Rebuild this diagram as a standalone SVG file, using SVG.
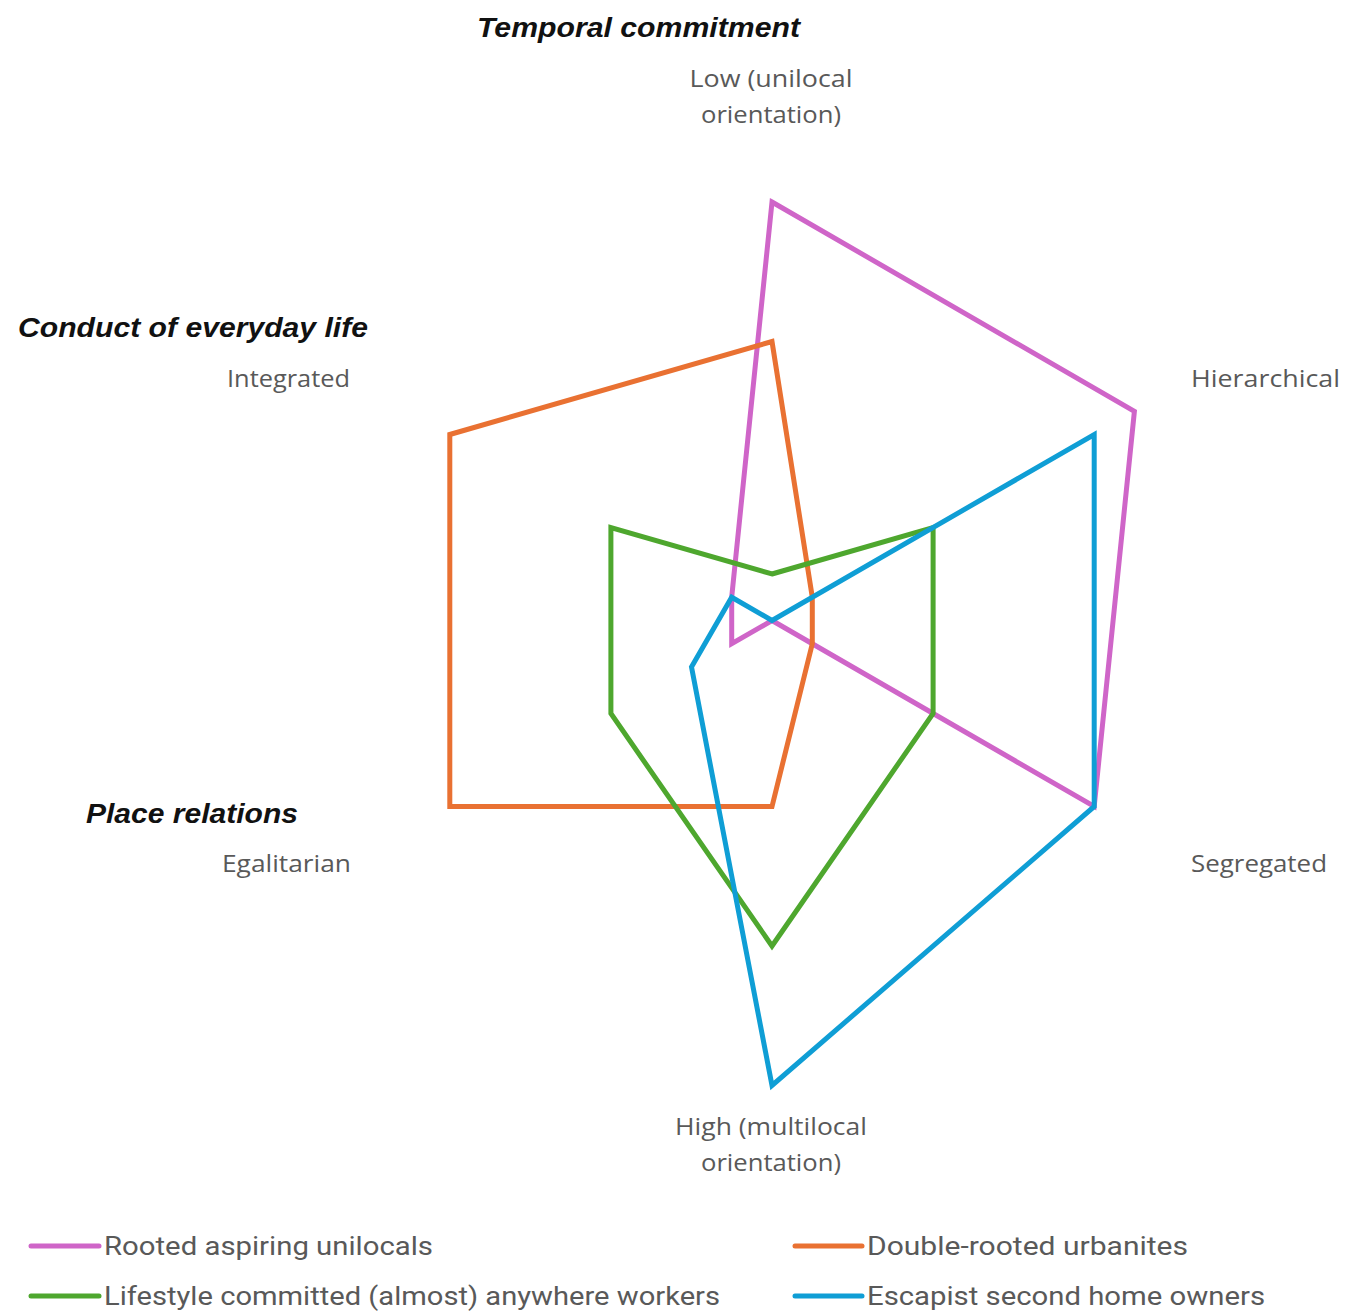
<svg xmlns="http://www.w3.org/2000/svg" width="1348" height="1311" viewBox="0 0 1348 1311">
<style>
.title{font-family:"Liberation Sans",Arial,sans-serif;font-weight:bold;font-style:italic;font-size:27px;fill:#111}
.lab{font-family:"Open Sans","Noto Sans",sans-serif;font-size:23px;fill:#595959}
.leg{font-family:"Roboto","Noto Sans",sans-serif;font-size:25px;fill:#595959}
.series{fill:none;stroke-width:5;stroke-linejoin:miter}
.key{stroke-width:5;stroke-linecap:round}
.pink{stroke:#CF65C8}
.orange{stroke:#E97132}
.green{stroke:#4EA72E}
.blue{stroke:#0F9ED5}
</style>
<rect width="1348" height="1311" fill="#fff"/>
<g id="axis-labels">
<text class="title" x="477" y="37" textLength="323" lengthAdjust="spacingAndGlyphs">Temporal commitment</text>
<text class="lab" x="771" y="87" text-anchor="middle" textLength="163" lengthAdjust="spacingAndGlyphs">Low (unilocal</text>
<text class="lab" x="771" y="123" text-anchor="middle" textLength="140" lengthAdjust="spacingAndGlyphs">orientation)</text>
<text class="title" x="18" y="337" textLength="350" lengthAdjust="spacingAndGlyphs">Conduct of everyday life</text>
<text class="lab" x="227" y="387" textLength="123" lengthAdjust="spacingAndGlyphs">Integrated</text>
<text class="lab" x="1191" y="387" textLength="149" lengthAdjust="spacingAndGlyphs">Hierarchical</text>
<text class="title" x="86" y="823" textLength="212" lengthAdjust="spacingAndGlyphs">Place relations</text>
<text class="lab" x="222" y="872" textLength="129" lengthAdjust="spacingAndGlyphs">Egalitarian</text>
<text class="lab" x="1191" y="872" textLength="136" lengthAdjust="spacingAndGlyphs">Segregated</text>
<text class="lab" x="771" y="1135" text-anchor="middle" textLength="192" lengthAdjust="spacingAndGlyphs">High (multilocal</text>
<text class="lab" x="771" y="1171" text-anchor="middle" textLength="140" lengthAdjust="spacingAndGlyphs">orientation)</text>
</g>
<g id="series">
<polygon id="rooted-aspiring-unilocals" class="series pink" points="772,202 1134.4,411.25 1094.2,806.5 772,620.5 731.7,643.75 731.7,597.25"/>
<polygon id="double-rooted-urbanites" class="series orange" points="772,341.5 812.3,597.25 812.3,643.75 772,806.5 449.8,806.5 449.8,434.5"/>
<polygon id="lifestyle-committed-workers" class="series green" points="772,574 933.1,527.5 933.1,713.5 772,946 610.9,713.5 610.9,527.5"/>
<polygon id="escapist-second-home-owners" class="series blue" points="772,620.5 1094.2,434.5 1094.2,806.5 772,1085.5 691.5,667 731.7,597.25"/>
</g>
<g id="legend">
<g id="legend-pink"><line class="key pink" x1="31" y1="1246" x2="99" y2="1246"/><text class="leg" x="104" y="1255" textLength="329" lengthAdjust="spacingAndGlyphs">Rooted aspiring unilocals</text></g>
<g id="legend-orange"><line class="key orange" x1="795" y1="1246" x2="862" y2="1246"/><text class="leg" x="867" y="1255" textLength="321" lengthAdjust="spacingAndGlyphs">Double-rooted urbanites</text></g>
<g id="legend-green"><line class="key green" x1="31" y1="1296" x2="99" y2="1296"/><text class="leg" x="104" y="1305" textLength="616" lengthAdjust="spacingAndGlyphs">Lifestyle committed (almost) anywhere workers</text></g>
<g id="legend-blue"><line class="key blue" x1="795" y1="1296" x2="862" y2="1296"/><text class="leg" x="867" y="1305" textLength="398" lengthAdjust="spacingAndGlyphs">Escapist second home owners</text></g>
</g>
</svg>
